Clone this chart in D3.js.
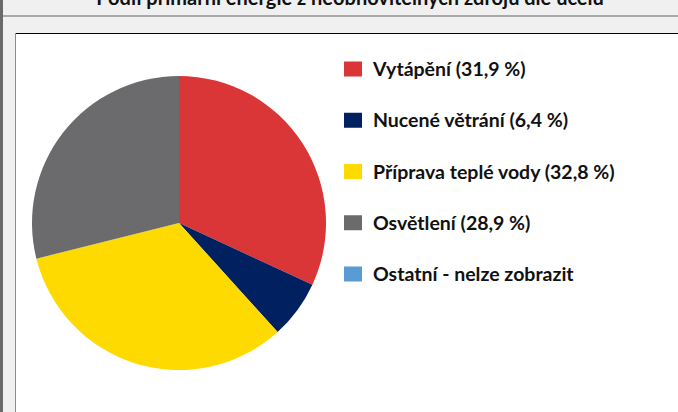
<!DOCTYPE html>
<html>
<head>
<meta charset="utf-8">
<script src="https://cdn.jsdelivr.net/npm/d3@7"></script>
<style>
  body { margin: 0; background: #f0f0f0; }
  svg { display: block; }
</style>
</head>
<body>
<div id="chart"></div>
<script>
// data
var categories = ["Vytápění", "Nucené větrání", "Příprava teplé vody", "Osvětlení", "Ostatní"];
var values = [31.9, 6.4, 32.8, 28.9, 0];
var labels = ["Vytápění (31,9 %)", "Nucené větrání (6,4 %)", "Příprava teplé vody (32,8 %)", "Osvětlení (28,9 %)", "Ostatní - nelze zobrazit"];
var colors = ["#da3637", "#002060", "#ffda00", "#6b6b6d", "#5b9bd5"];
var title = "Podíl primární energie z neobnovitelných zdrojů dle účelu";

var W = 678, H = 412;

var svg = d3.select("#chart").append("svg")
    .attr("width", W)
    .attr("height", H);

// window frame
svg.append("rect").attr("x", 0).attr("y", 0).attr("width", W).attr("height", H).attr("fill", "#f0f0f0");
svg.append("rect").attr("x", 0).attr("y", 0).attr("width", 3).attr("height", H).attr("fill", "#6a6a6a");
svg.append("rect").attr("x", 3).attr("y", 15).attr("width", W - 3).attr("height", 2).attr("fill", "#a9a9a9");

// title, mostly scrolled off the top
svg.append("text")
    .attr("x", 350)
    .attr("y", 5)
    .attr("text-anchor", "middle")
    .style("font-family", "Lato, 'Open Sans', sans-serif")
    .style("font-weight", "bold")
    .style("font-size", "20px")
    .attr("fill", "#111")
    .text(title);

// white chart panel
svg.append("rect").attr("x", 16).attr("y", 33).attr("width", W - 16).attr("height", H - 33).attr("fill", "#fff");
svg.append("rect").attr("x", 15).attr("y", 33).attr("width", 1).attr("height", H - 33).attr("fill", "#8a8a8a");
svg.append("rect").attr("x", 16).attr("y", 33).attr("width", W - 16).attr("height", 1).attr("fill", "#000");

// pie
var cx = 179, cy = 223, r = 147;

var pie = d3.pie().sort(null).value(function(d) { return d; });
var arc = d3.arc().innerRadius(0).outerRadius(r);

var color = d3.scaleOrdinal().domain(categories).range(colors);

svg.append("g")
    .attr("transform", "translate(" + cx + "," + cy + ")")
    .selectAll("path")
    .data(pie(values))
    .enter()
    .append("path")
    .attr("d", arc)
    .attr("fill", function(d, i) { return color(categories[i]); });

// legend
var ly = d3.scalePoint().domain(categories).range([69, 274]);

var legend = svg.append("g")
    .selectAll("g")
    .data(categories)
    .enter()
    .append("g")
    .attr("transform", function(d) { return "translate(344," + ly(d) + ")"; });

legend.append("rect")
    .attr("x", 0)
    .attr("y", -7.5)
    .attr("width", 18)
    .attr("height", 15)
    .attr("fill", function(d) { return color(d); });

legend.append("text")
    .attr("x", 29)
    .attr("y", 7)
    .style("font-family", "Lato, 'Open Sans', sans-serif")
    .style("font-weight", "bold")
    .style("font-size", "19.5px")
    .attr("fill", "#111")
    .text(function(d, i) { return labels[i]; });
</script>
</body>
</html>
